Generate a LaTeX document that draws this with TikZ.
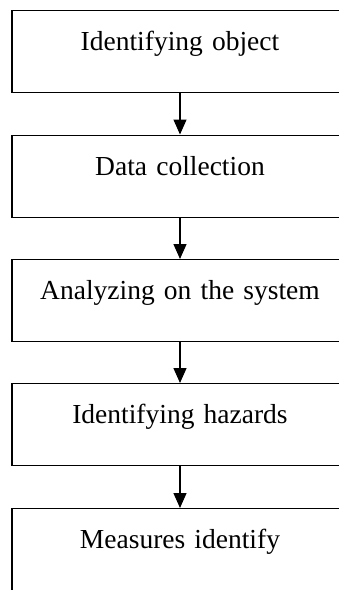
\documentclass[tikz,border=0pt]{standalone}
\usepackage{fontspec}
\setmainfont{Liberation Serif}
\usetikzlibrary{arrows.meta}
\tikzset{
  stagebox/.style={draw, line width=1.3pt, rectangle, inner sep=0pt,
    text width=336pt, align=center, text height=40pt, text depth=42pt,
    font=\fontsize{27.5}{33}\selectfont},
  flowarrow/.style={line width=1.3pt, -{Triangle[width=13pt,length=15pt]}}
}
\begin{document}
\begin{tikzpicture}[x=1pt,y=1pt]
  \useasboundingbox (0,0) rectangle (339,-590);
  \clip (0,0) rectangle (339,-590);
  \node[stagebox, anchor=north] (s1) at (180,-10)    {Identifying object};
  \node[stagebox, anchor=north] (s2) at (180,-134.5) {Data collection};
  \node[stagebox, anchor=north] (s3) at (180,-259)   {Analyzing on the system};
  \node[stagebox, anchor=north] (s4) at (180,-383)   {Identifying hazards};
  \node[stagebox, anchor=north] (s5) at (180,-508)   {Measures identify};
  \draw[flowarrow] (s1.south) -- (s2.north);
  \draw[flowarrow] (s2.south) -- (s3.north);
  \draw[flowarrow] (s3.south) -- (s4.north);
  \draw[flowarrow] (s4.south) -- (s5.north);
\end{tikzpicture}
\end{document}
